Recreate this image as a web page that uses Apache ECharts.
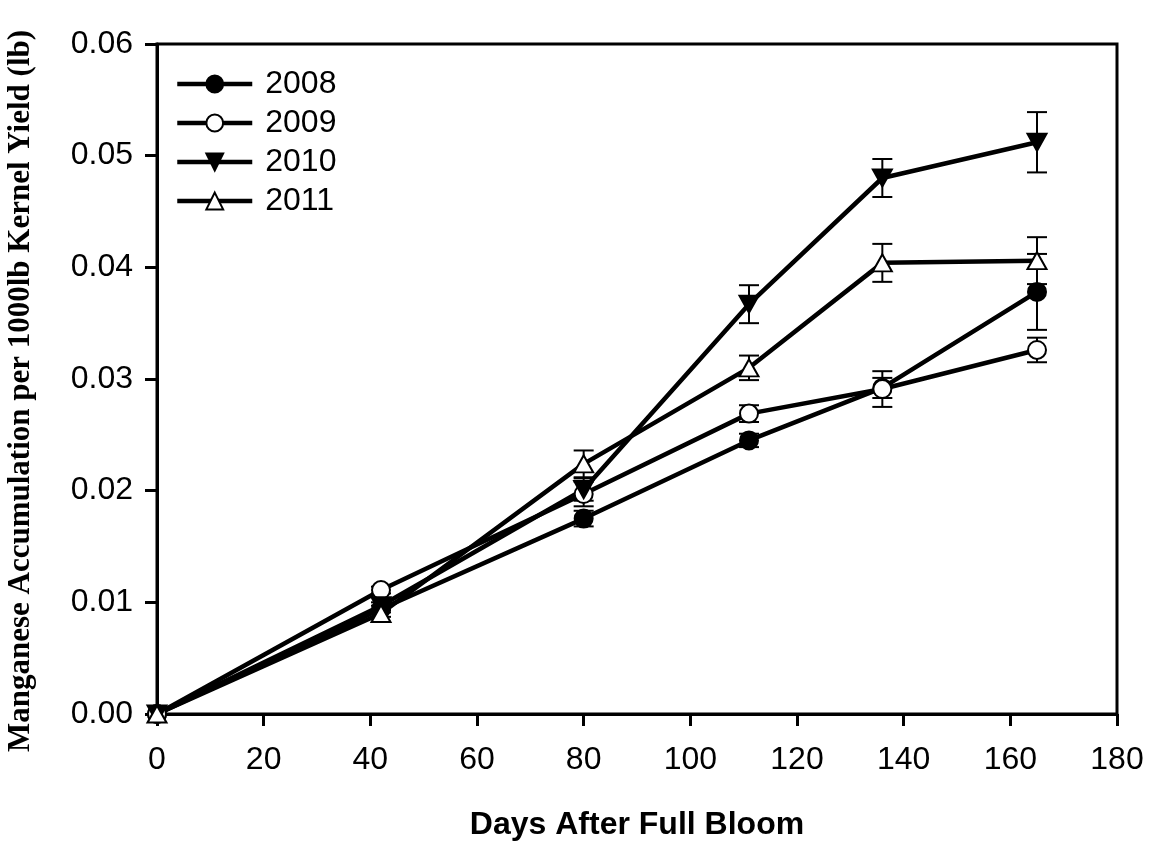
<!DOCTYPE html>
<html>
<head>
<meta charset="utf-8">
<script src="https://cdn.jsdelivr.net/npm/echarts@6/dist/echarts.min.js"></script>
<style>
  html, body { margin: 0; padding: 0; background: #fff; }
  #chart { width: 1152px; height: 845px; }
</style>
</head>
<body>
<div id="chart"></div>
<script>
// Days after full bloom at each sampling date
const days = [0, 42, 80, 111, 136, 165];

// Mn accumulation per 1000 lb kernel yield (lb), by season
const y2008 = [0, 0.0094, 0.0175, 0.0245, 0.0292, 0.0378];
const y2009 = [0, 0.0111, 0.0197, 0.0269, 0.0291, 0.0326];
const y2010 = [0, 0.0097, 0.0201, 0.0367, 0.0480, 0.0512];
const y2011 = [0, 0.0090, 0.0224, 0.0310, 0.0404, 0.0406];

// Standard errors
const e2008 = [0, 0.0003, 0.0007, 0.0006, 0.0009, 0.0034];
const e2009 = [0, 0.0003, 0.0011, 0.00075, 0.0016, 0.0011];
const e2010 = [0, 0.0003, 0.0010, 0.0017, 0.0017, 0.0027];
const e2011 = [0, 0.0003, 0.0012, 0.0011, 0.0017, 0.0021];

const yTicks = ['0.00', '0.01', '0.02', '0.03', '0.04', '0.05', '0.06'];

const SANS = 'Liberation Sans, Arial, sans-serif';
const SERIF = 'Liberation Serif, Times New Roman, serif';
const DOWN_TRI = 'path://M0,0L20,0L10,17.3Z';

function pairs(ys) { return days.map((d, i) => [d, ys[i]]); }

function errorSeries(ys, es) {
  return {
    type: 'custom',
    silent: true,
    z: 1,
    data: days.map((d, i) => [d, ys[i] - es[i], ys[i] + es[i]]),
    renderItem: function (params, api) {
      const x = api.value(0);
      const lo = api.coord([x, api.value(1)]);
      const hi = api.coord([x, api.value(2)]);
      const w = 10;
      const st = { stroke: '#000', lineWidth: 2 };
      return {
        type: 'group',
        children: [
          { type: 'line', shape: { x1: lo[0], y1: lo[1], x2: hi[0], y2: hi[1] }, style: st },
          { type: 'line', shape: { x1: lo[0] - w, y1: lo[1], x2: lo[0] + w, y2: lo[1] }, style: st },
          { type: 'line', shape: { x1: hi[0] - w, y1: hi[1], x2: hi[0] + w, y2: hi[1] }, style: st }
        ]
      };
    }
  };
}

function lineSeries(name, ys, symbol, size, filled) {
  return {
    name: name,
    type: 'line',
    z: 3,
    data: pairs(ys),
    symbol: symbol,
    symbolSize: size,
    showAllSymbol: true,
    lineStyle: { color: '#000', width: 4.5 },
    itemStyle: {
      color: filled ? '#000' : '#fff',
      borderColor: '#000',
      borderWidth: 2,
      opacity: 1
    },
    emphasis: { disabled: true }
  };
}

const chart = echarts.init(document.getElementById('chart'), null, { renderer: 'canvas' });

chart.setOption({
  animation: false,
  backgroundColor: '#fff',
  grid: {
    left: 157, top: 44, right: 35, bottom: 131,
    outerBoundsMode: 'none',
    containLabel: false,
    show: true, borderColor: '#000', borderWidth: 3, backgroundColor: 'transparent'
  },
  legend: {
    orient: 'vertical',
    left: 175,
    top: 68,
    padding: 0,
    itemWidth: 75,
    itemHeight: 21,
    itemGap: 7,
    data: ['2008', '2009', '2010', '2011'],
    lineStyle: { width: 4.5, color: '#000' },
    textStyle: { fontFamily: SANS, fontSize: 32, color: '#000', padding: [0, 0, 0, 8] }
  },
  xAxis: {
    type: 'value',
    min: 0, max: 180, interval: 20,
    name: 'Days After Full Bloom',
    nameLocation: 'middle',
    nameGap: 95,
    nameTextStyle: { fontFamily: SANS, fontSize: 32, fontWeight: 'bold', color: '#000' },
    axisLine: { show: true, lineStyle: { color: '#000', width: 3 } },
    axisTick: { show: true, inside: false, length: 12, lineStyle: { color: '#000', width: 3 } },
    axisLabel: { fontFamily: SANS, fontSize: 32, color: '#000', margin: 30 },
    splitLine: { show: false }
  },
  yAxis: {
    type: 'value',
    min: 0, max: 0.06, interval: 0.01,
    name: 'Manganese Accumulation per 1000lb Kernel Yield (lb)',
    nameLocation: 'middle',
    nameGap: 121,
    nameTextStyle: { fontFamily: SERIF, fontSize: 31, fontWeight: 'bold', color: '#000', padding: [0, 24, 0, 0] },
    axisLine: { show: true, lineStyle: { color: '#000', width: 3 } },
    axisTick: { show: true, inside: false, length: 12, lineStyle: { color: '#000', width: 3 } },
    axisLabel: {
      fontFamily: SANS, fontSize: 32, color: '#000', margin: 24,
      formatter: function (v) { return yTicks[Math.round(v * 100)]; }
    },
    splitLine: { show: false }
  },
  series: [
    errorSeries(y2008, e2008),
    errorSeries(y2009, e2009),
    errorSeries(y2010, e2010),
    errorSeries(y2011, e2011),
    lineSeries('2008', y2008, 'circle', 18, true),
    lineSeries('2009', y2009, 'circle', 18, false),
    lineSeries('2010', y2010, DOWN_TRI, [19, 17], true),
    lineSeries('2011', y2011, 'triangle', [19, 17], false)
  ]
});
</script>
</body>
</html>
